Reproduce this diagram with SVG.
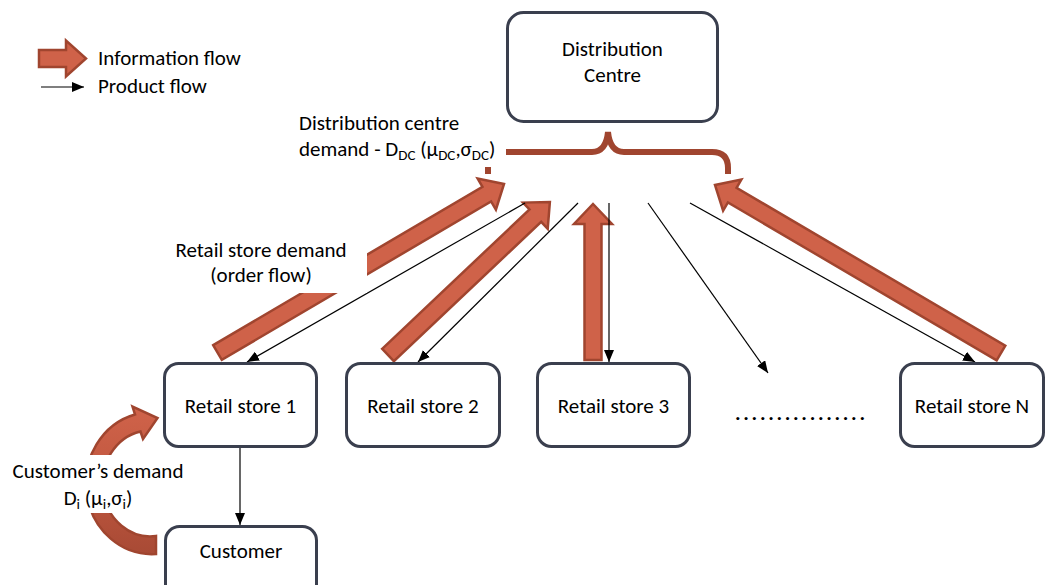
<svg xmlns="http://www.w3.org/2000/svg" width="1046" height="585" viewBox="0 0 1046 585">
  <defs>
    <style>
      text { font-family: Carlito, Lato, "Liberation Sans", sans-serif; font-size: 21px; fill: #000; }
      .box { fill: #fff; stroke: #3a3f4e; stroke-width: 3; }
      .info { fill: #cf6249; stroke: #a0452f; stroke-width: 2.5; stroke-linejoin: miter; }
      .prod { stroke: #000; stroke-width: 1.2; fill: none; marker-end: url(#ah); }
      .mask { fill: #fff; stroke: none; }
      .sub { font-size: 15px; }
    </style>
    <marker id="ah" markerUnits="userSpaceOnUse" markerWidth="12" markerHeight="10" refX="12" refY="5" orient="auto">
      <path d="M0,0 L12,5 L0,10 Z" fill="#000"/>
    </marker>
    <linearGradient id="curveGrad" x1="0" y1="0" x2="0" y2="1">
      <stop offset="0" stop-color="#d0634a"/>
      <stop offset="0.5" stop-color="#c0573f"/>
      <stop offset="1" stop-color="#a84a35"/>
    </linearGradient>
  </defs>

  <!-- Legend -->
  <g id="legend">
    <polygon class="info" transform="translate(39,58.5)" points="0,-8.5 27,-8.5 27,-18 47,0 27,18 27,8.5 0,8.5"/>
    <line class="prod" x1="41" y1="87" x2="84" y2="87"/>
    <text x="98" y="65">Information flow</text>
    <text x="98" y="93">Product flow</text>
  </g>

  <!-- Brace -->
  <g id="brace">
    <path d="M488,174 V168 Q488,152 504,152 H592 Q606,152 608,132 Q610,152 624,152 H712 Q728,152 728,168 V174" fill="none" stroke="#a0452f" stroke-width="6"/>
  </g>

  <!-- Information flow arrows -->
  <g id="info-arrows">
    <polygon class="info" transform="translate(217.5,352.5) rotate(-30.46)" points="0,-8.5 312.4,-8.5 312.4,-18 332.4,0 312.4,18 312.4,8.5 0,8.5"/>
    <polygon class="info" transform="translate(388,355) rotate(-43.4)" points="0,-8.5 202.8,-8.5 202.8,-18 222.8,0 202.8,18 202.8,8.5 0,8.5"/>
    <polygon class="info" transform="translate(593,360) rotate(-90)" points="0,-8.5 136,-8.5 136,-19 156,0 136,19 136,8.5 0,8.5"/>
    <polygon class="info" transform="translate(1001,353) rotate(-149.57)" points="0,-8.5 311.7,-8.5 311.7,-18 331.7,0 311.7,18 311.7,8.5 0,8.5"/>
    <path class="info" style="fill:url(#curveGrad)" d="M156,554 A66,71 0 0 1 135,414.5 L132.5,406.5 L157.5,418 L143,439 L140.5,431.5 A48,53 0 0 0 156,536 Z"/>
  </g>

  <!-- Product flow connectors -->
  <g id="connectors">
    <line class="prod" x1="525" y1="203" x2="247" y2="362"/>
    <line class="prod" x1="578" y1="203" x2="418" y2="362"/>
    <line class="prod" x1="609" y1="203" x2="609" y2="362"/>
    <line class="prod" x1="648" y1="203" x2="768" y2="373"/>
    <line class="prod" x1="690" y1="203" x2="975" y2="362"/>
    <line class="prod" x1="240" y1="448" x2="240" y2="525"/>
  </g>

  <!-- Labels with white backgrounds -->
  <g id="label-dc-demand">
    <rect class="mask" x="293" y="108" width="213" height="59"/>
    <text x="299" y="130">Distribution centre</text>
    <text x="299" y="156">demand - D<tspan class="sub" dy="4">DC</tspan><tspan dy="-4"> (μ</tspan><tspan class="sub" dy="4">DC</tspan><tspan dy="-4">,σ</tspan><tspan class="sub" dy="4">DC</tspan><tspan dy="-4">)</tspan></text>
  </g>
  <g id="label-store-demand">
    <rect class="mask" x="168" y="235" width="199" height="58"/>
    <text x="261" y="257" text-anchor="middle">Retail store demand</text>
    <text x="261" y="282" text-anchor="middle">(order flow)</text>
  </g>
  <g id="label-customer-demand">
    <rect class="mask" x="5" y="455" width="181" height="58"/>
    <text x="98" y="478" text-anchor="middle">Customer’s demand</text>
    <text x="98" y="505" text-anchor="middle">D<tspan class="sub" dy="4">i</tspan><tspan dy="-4"> (μ</tspan><tspan class="sub" dy="4">i</tspan><tspan dy="-4">,σ</tspan><tspan class="sub" dy="4">i</tspan><tspan dy="-4">)</tspan></text>
  </g>

  <!-- Nodes -->
  <g id="distribution-centre">
    <rect class="box" x="507.5" y="12.5" width="210" height="109" rx="16"/>
    <text x="612.5" y="56" text-anchor="middle">Distribution</text>
    <text x="612.5" y="82" text-anchor="middle">Centre</text>
  </g>
  <g id="retail-store-1">
    <rect class="box" x="164.5" y="363.5" width="152" height="83" rx="14"/>
    <text x="240.5" y="413" text-anchor="middle">Retail store 1</text>
  </g>
  <g id="retail-store-2">
    <rect class="box" x="346.5" y="363.5" width="153" height="83" rx="14"/>
    <text x="423" y="413" text-anchor="middle">Retail store 2</text>
  </g>
  <g id="retail-store-3">
    <rect class="box" x="537.5" y="363.5" width="152" height="83" rx="14"/>
    <text x="613.5" y="413" text-anchor="middle">Retail store 3</text>
  </g>
  <g id="ellipsis">
    <text x="735" y="420" font-weight="bold" textLength="130" lengthAdjust="spacing">................</text>
  </g>
  <g id="retail-store-n">
    <rect class="box" x="900.5" y="363.5" width="143" height="83" rx="14"/>
    <text x="972" y="413" text-anchor="middle">Retail store N</text>
  </g>
  <g id="customer">
    <rect class="box" x="165.5" y="526.5" width="151" height="80" rx="14"/>
    <text x="241" y="558" text-anchor="middle">Customer</text>
  </g>
</svg>
